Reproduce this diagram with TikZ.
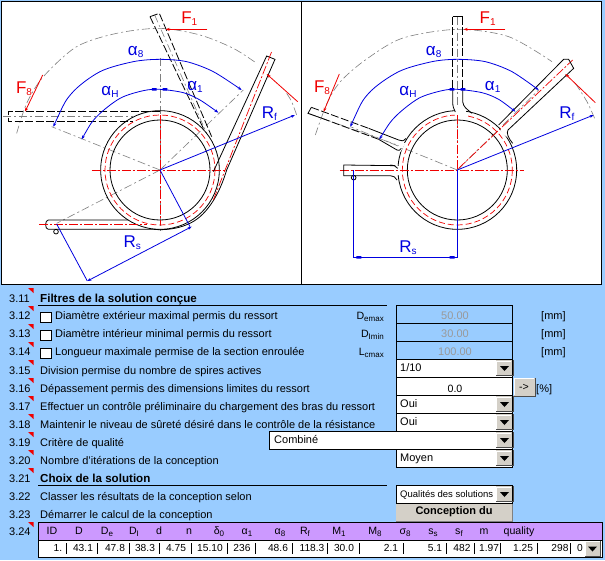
\documentclass[tikz,border=0pt]{standalone}
\usepackage{fontspec}
\setmainfont{Liberation Sans}
\usetikzlibrary{arrows.meta}
\definecolor{formbg}{HTML}{99CCFF}
\definecolor{btn}{HTML}{D4D0C8}
\definecolor{hdr}{HTML}{CC99FF}
\definecolor{blu}{HTML}{0000E0}
\definecolor{rd}{HTML}{F00000}
\definecolor{gr}{HTML}{808080}
\newcommand{\lowtxt}[1]{\raisebox{-2pt}{\fontsize{8}{8}\selectfont #1}}
\newcommand{\bigsub}[1]{\raisebox{-2pt}{\fontsize{10}{10}\selectfont #1}}
\newcommand{\ddbtn}[2]{%
  \fill[btn] (496,#1) rectangle (512,#2);
  \draw[white,line width=.8pt] (496.5,#2-1) -- (496.5,#1+1) -- (511,#1+1);
  \draw[black!70,line width=1pt] (496,#2-.5) -- (513,#2-.5) -- (513,#1);
  \fill[black] (500,{(#1+#2)/2-2}) -- (509,{(#1+#2)/2-2}) -- (504.5,{(#1+#2)/2+3}) -- cycle;
}
\tikzset{
  sheet/.style={x=0.33333pt,y=-0.33333pt},
  panel/.style={draw=black,line width=1pt,fill=white},
  obj/.style={black,line width=.8pt},
  objd/.style={black,line width=.8pt,dash pattern=on 8pt off 2.5pt},
  axisr/.style={rd,line width=.7pt,dash pattern=on 9pt off 2pt on 2pt off 2pt},
  mid/.style={rd,line width=.7pt,dash pattern=on 6pt off 3pt},
  cons/.style={gr,line width=.6pt,dash pattern=on 8pt off 3pt on 2pt off 3pt},
  dim/.style={blu,line width=.8pt},
  dimarrow/.style={blu,line width=.8pt,{Stealth[length=4pt,width=3pt]}-{Stealth[length=4pt,width=3pt]}},
  redarrow/.style={rd,line width=.8pt,-{Stealth[length=4pt,width=3pt]}},
  rlab/.style={text=rd,inner sep=0,font=\fontsize{17}{17}\selectfont},
  blab/.style={text=blu,inner sep=0,font=\fontsize{17}{17}\selectfont},
  rowtext/.style={inner sep=0,text height=8pt,text depth=2pt},
  num/.style={rowtext,anchor=west,font=\fontsize{11}{11}\selectfont},
  txt/.style={rowtext,anchor=west,font=\fontsize{11}{11}\selectfont},
  btxt/.style={rowtext,anchor=west,font=\fontsize{11.6}{11}\selectfont\bfseries},
  cell/.style={draw=black,line width=1pt,fill=white},
  gfield/.style={draw=black,line width=1pt},
  gval/.style={rowtext,text=black!40,font=\fontsize{11}{11}\selectfont},
  rtxt/.style={rowtext,anchor=east,font=\fontsize{10.6}{11}\selectfont},
  col/.style={rowtext,font=\fontsize{10.6}{11}\selectfont},
  val/.style={rowtext,font=\fontsize{10.2}{11}\selectfont},
}
\begin{document}
\begin{tikzpicture}[x=1pt,y=-1pt]
\useasboundingbox (0,0) rectangle (605,560);
\fill[formbg] (0,0) rectangle (605,560);
\draw[panel] (1.5,1.5) rectangle (301.5,284);
\draw[panel] (301.5,1.5) rectangle (601,284);

% ---------- left spring ----------
\begin{scope}[sheet]
\coordinate (cl) at (480,510);
\draw[cons] plot[smooth] coordinates {(50,400) (80,310) (130,230) (230,140) (350,100) (480,85) (600,105) (700,145) (770,190)};
\draw[cons] plot[smooth] coordinates {(860,280) (875,305) (890,345)};
\draw[cons] (cl) -- (155,380);
\draw[cons] (cl) -- (730,270);
\draw[cons] (cl) -- (170,670);
\draw[cons] (480,175) -- (480,700);
\draw[cons] (10,350) -- (400,350);
\draw[cons] (464,45) -- (620,400);
\draw[obj] (cl) circle[radius=178];
\draw[obj] (cl) circle[radius=150];
\draw[mid] (cl) circle[radius=165];
\draw[axisr] (275,510) -- (680,510);
\draw[axisr] (480,345) -- (480,675);
% bottom arm and bend
\draw[obj] (385,660) -- (145,660) to[out=180,in=180] (145,688) -- (460,688);
\draw[obj] (460,688) .. controls (500,692) and (560,685) .. (600,650) .. controls (640,615) and (665,560) .. (680,510) -- (825,178) -- (800,168) -- (640,515);
\draw[axisr] (118,674) -- (440,674);
\draw[axisr] (640,600) -- (815,155);
% dashed arms
\draw[objd] (450,50) -- (478,40) -- (635,410);
\draw[objd] (450,50) -- (610,385);
\draw[objd] (480,335) -- (25,335) -- (25,365) -- (400,365);
\draw[obj] (168,695) circle[radius=7];
% dims
\draw[dimarrow] plot[smooth] coordinates {(160,380) (215,280) (300,215) (400,185) (480,178) (560,185) (640,215) (725,270)};
\draw[dimarrow] plot[smooth] coordinates {(245,418) (290,350) (360,295) (430,272) (480,268) (550,278) (600,300) (655,338)};
\fill[blu] (456,264) rectangle (470,272) (488,264) rectangle (502,272);
\draw[dim,-{Stealth[length=4pt,width=3pt]}] (cl) -- (885,345);
\draw[dim] (cl) -- (570,680);
\draw[dim] (170,672) -- (262,843);
\draw[dimarrow] (262,843) -- (575,680);
\draw[redarrow] (622,88) -- (497,88);
\draw[redarrow] (128,225) -- (75,335);
\draw[redarrow] (893,305) -- (800,222);
\node[rlab] (fa) at (568,55) {F\bigsub{1}};
\node[rlab] (fb) at (72,265) {F\bigsub{8}};
\node[blab] (a8) at (407,157) {α\bigsub{8}};
\node[blab] (ah) at (330,275) {α\bigsub{H}};
\node[blab] (a1) at (585,262) {α\bigsub{1}};
\node[blab] (rf) at (808,340) {R\bigsub{f}};
\node[blab] (rs) at (397,727) {R\bigsub{s}};
\end{scope}

% ---------- right spring ----------
\begin{scope}[sheet,shift={(906,0)}]
\coordinate (cr) at (466,510);
\draw[cons] plot[smooth] coordinates {(40,405) (75,310) (115,245) (190,180) (300,115) (466,88) (620,110) (750,185)};
\draw[cons] plot[smooth] coordinates {(820,250) (855,305) (880,360)};
\draw[cons] (cr) -- (145,380);
\draw[cons] (cr) -- (710,270);
\draw[cons] (466,50) -- (466,750);
\draw[cons] (18,340) -- (300,440);
\draw[obj] (cr) circle[radius=178];
\draw[obj] (cr) circle[radius=150];
\draw[mid] (cr) circle[radius=165];
% masks where arms meet the coil
\fill[white] (458,325) rectangle (492,350);
\fill[white] (592,378) -- (616,392) -- (628,420) -- (600,400) -- cycle;
\fill[white] (296,425) -- (310,430) -- (296,455) -- (286,450) -- cycle;
\fill[white] (280,497) rectangle (297,526);
\draw[axisr] (113,510) -- (665,510);
\draw[axisr] (466,345) -- (466,690);
\draw[axisr] (470,505) -- (812,180);
% top arm
\draw[objd] (452,50) -- (452,270);
\draw[objd] (482,50) -- (482,270);
\draw[obj] (452,50) -- (482,50);
\draw[obj] (452,270) -- (452,305) .. controls (452,320) and (456,328) .. (460,336);
\draw[obj] (482,270) -- (482,305) .. controls (484,322) and (496,328) .. (510,340);
% upper right arm
\draw[obj] (590,375) -- (785,178) -- (800,178) -- (815,205) -- (618,390) .. controls (612,400) and (620,415) .. (632,430);
% upper left arm
\draw[obj] (28,322) -- (18,340) -- (60,355);
\draw[objd] (60,355) -- (230,418);
\draw[objd] (28,322) -- (200,385);
\draw[obj] (230,418) -- (285,450) .. controls (290,452) and (294,452) .. (298,445);
\draw[obj] (200,385) -- (290,420) .. controls (298,424) and (305,424) .. (312,415);
% lower left arm
\draw[obj] (280,497) -- (125,495) -- (125,527) -- (265,527) .. controls (275,527) and (280,532) .. (285,540);
\draw[obj] (265,495) .. controls (275,495) and (280,497) .. (287,505);
\draw[obj] (155,533) circle[radius=7];
% dims
\draw[dimarrow] plot[smooth] coordinates {(145,380) (200,280) (290,215) (390,185) (466,178) (550,185) (630,215) (710,270)};
\draw[dimarrow] plot[smooth] coordinates {(232,418) (280,350) (350,295) (420,272) (466,268) (540,278) (590,298) (640,335)};
\fill[blu] (443,264) rectangle (457,272) (476,264) rectangle (490,272);
\draw[dim,-{Stealth[length=4pt,width=3pt]}] (cr) -- (875,345);
\draw[dim] (155,510) -- (155,775);
\draw[dim] (466,510) -- (466,775);
\draw[dim] (155,772) -- (466,772);
\fill[blu] (163,768) rectangle (178,776) (443,768) rectangle (458,776);
\draw[redarrow] (610,88) -- (485,88);
\draw[redarrow] (112,222) -- (65,335);
\draw[redarrow] (880,308) -- (790,222);
\node[rlab] (fc) at (557,55) {F\bigsub{1}};
\node[rlab] (fd) at (60,263) {F\bigsub{8}};
\node[blab] (b8) at (395,157) {α\bigsub{8}};
\node[blab] (bh) at (318,275) {α\bigsub{H}};
\node[blab] (b1) at (572,262) {α\bigsub{1}};
\node[blab] (rg) at (795,340) {R\bigsub{f}};
\node[blab] (rt) at (318,742) {R\bigsub{s}};
\end{scope}

% ---------- row numbers and red corners ----------
\foreach \n/\yy in {3.11/299,3.12/316,3.13/334,3.14/352,3.15/371,3.16/389,3.17/407,3.18/425,3.19/443,3.20/461,3.21/479,3.22/497,3.23/515,3.24/532}
  \node[num] (n\n) at (9,\yy) {\n};
\foreach \yy in {288,306,324,342,360,378,396,414,432,450,468,522}
  \fill[rd] (28,\yy) -- (33.5,\yy) -- (33.5,\yy+5) -- cycle;

% ---------- labels ----------
\node[btxt] (h1) at (40,299) {Filtres de la solution conçue};
\draw[black,line width=1pt] (38,305.5) -- (387,305.5);
\foreach \yy in {312,330,348} \draw[black,fill=white,line width=.6pt] (40.5,\yy) rectangle (51,\yy+10);
\node[txt] (t12) at (55,316) {Diamètre extérieur maximal permis du ressort};
\node[txt] (t13) at (55,334) {Diamètre intérieur minimal permis du ressort};
\node[txt] (t14) at (55,352) {Longueur maximale permise de la section enroulée};
\node[txt] (t15) at (40,371) {Division permise du nombre de spires actives};
\node[txt] (t16) at (40,389) {Dépassement permis des dimensions limites du ressort};
\node[txt] (t17) at (40,407) {Effectuer un contrôle préliminaire du chargement des bras du ressort};
\node[txt] (t18) at (40,425) {Maintenir le niveau de sûreté désiré dans le contrôle de la résistance};
\node[txt] (t19) at (40,443) {Critère de qualité};
\node[txt] (t20) at (40,461) {Nombre d'itérations de la conception};
\node[btxt] (h2) at (40,479) {Choix de la solution};
\draw[black,line width=1pt] (38,485.5) -- (387,485.5);
\node[txt] (t22) at (40,497) {Classer les résultats de la conception selon};
\node[txt] (t23) at (40,515) {Démarrer le calcul de la conception};
\node[rtxt] (d1) at (384,316.5) {D\lowtxt{emax}};
\node[rtxt] (d2) at (384,334.5) {D\lowtxt{Imin}};
\node[rtxt] (d3) at (384,352.5) {L\lowtxt{cmax}};

% ---------- fields ----------
\foreach \a/\b in {305/323,323/341,341/359} \draw[gfield] (396.5,\a) rectangle (512.5,\b);
\node[gval] (v1) at (455,316) {50.00};
\node[gval] (v2) at (455,334) {30.00};
\node[gval] (v3) at (455,352) {100.00};
\foreach \yy in {316,334,352} \node[txt] at (541,\yy) {[mm]};
\draw[cell] (396.5,359) rectangle (512.5,377);
\draw[cell] (396.5,377) rectangle (512.5,395);
\draw[cell] (396.5,395) rectangle (512.5,413);
\draw[cell] (396.5,413) rectangle (512.5,431);
\draw[cell] (269.5,431) rectangle (512.5,449);
\draw[cell] (396.5,449) rectangle (512.5,467);
\draw[cell] (396.5,485) rectangle (512.5,503);
\ddbtn{360}{376}\ddbtn{396}{412}\ddbtn{414}{430}\ddbtn{432}{448}\ddbtn{450}{466}\ddbtn{486}{502}
\node[txt,anchor=west] (c1) at (400,368) {1/10};
\node[col] (c2) at (455,389) {0.0};
\node[txt] (c3) at (400,404) {Oui};
\node[txt] (c4) at (400,422) {Oui};
\node[txt] (c5) at (274,440) {Combiné};
\node[txt] (c6) at (400,458.5) {Moyen};
\node[txt,font=\fontsize{9.5}{11}\selectfont] (c7) at (400,494.5) {Qualités des solutions};
\fill[btn] (513.5,378) rectangle (535,396);
\draw[white,line width=.8pt] (514,395) -- (514,378.5) -- (534,378.5);
\draw[black!70,line width=1pt] (514,396) -- (535,396) -- (535,378);
\node[col] (go) at (524,387.5) {->};
\node[txt] (pct) at (536,389) {[\%]};
\fill[btn] (396,503.5) rectangle (512.5,521);
\draw[black!50,line width=.8pt] (396,521) -- (512.5,521) -- (512.5,503.5);
\node[inner sep=0,font=\fontsize{11}{11}\selectfont\bfseries] (cd) at (454,512) {Conception du};

% ---------- table ----------
\fill[hdr] (38.5,522) rectangle (602,540);
\fill[white] (38.5,540) rectangle (602,557);
\draw[black,line width=1pt] (38.5,522) rectangle (602,557.5);
\draw[black,line width=1pt] (38.5,540) -- (602,540);
\foreach \t/\xx [count=\i] in {ID/52,D/79,D\lowtxt{e}/107,D\lowtxt{I}/134,d/159,n/189,δ\lowtxt{0}/219,α\lowtxt{1}/247,α\lowtxt{8}/280,R\lowtxt{f}/305,M\lowtxt{1}/339,M\lowtxt{8}/375,σ\lowtxt{8}/405,s\lowtxt{s}/433,s\lowtxt{f}/459,m/484,quality/519}
  \node[col] (hc\i) at (\xx,531) {\t};
\foreach \t/\xx [count=\i] in {1./58,43.1/83,47.8/115,38.3/145,4.75/176,15.10/210,236/242,48.6/278,118.3/312,30.0/344,2.1/391,5.1/435,482/462,1.97/489,1.25/523,298/560,0/580}
  \node[val] (rc\i) at (\xx,548.5) {\t};
\foreach \xx in {66.5,97.5,129,159.5,191,227,255,292,327,359,403,446,474,500,537,570}
  \draw[black,line width=.7pt] (\xx,543) -- (\xx,554);
\fill[btn] (585,541) rectangle (600,556.5);
\draw[white,line width=.8pt] (585.5,556) -- (585.5,541.5) -- (600,541.5);
\draw[black!70,line width=1pt] (585,556.5) -- (600,556.5) -- (600,541);
\fill[black] (588,546.5) -- (597,546.5) -- (592.5,551.5) -- cycle;
\end{tikzpicture}
\end{document}
